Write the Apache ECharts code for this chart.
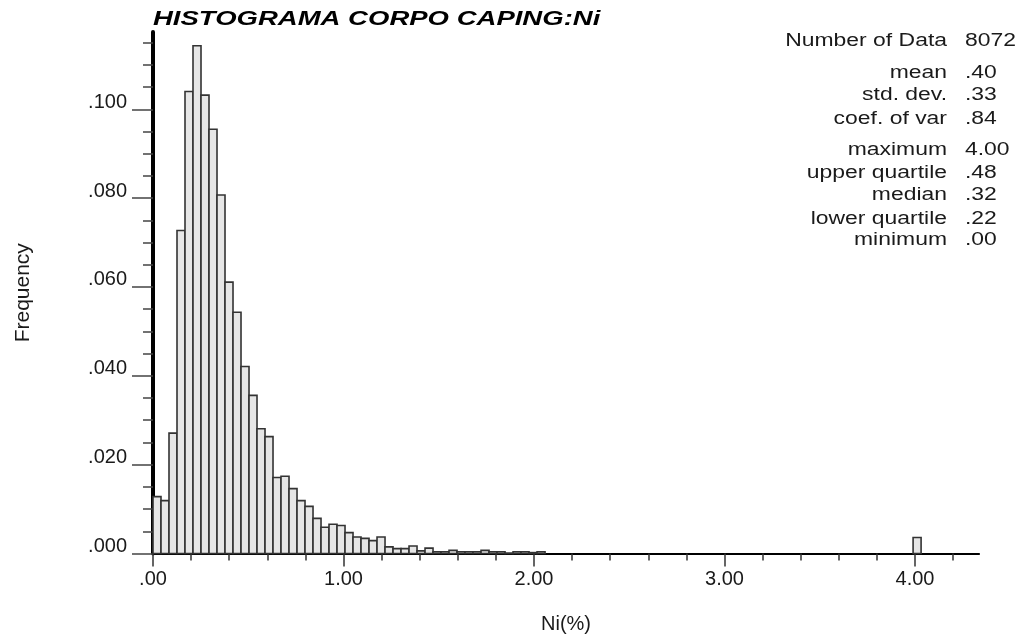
<!DOCTYPE html>
<html>
<head>
<meta charset="utf-8">
<script src="https://cdn.jsdelivr.net/npm/echarts@6/dist/echarts.min.js"></script>
<style>
html,body{margin:0;padding:0;background:#fff;}
#chart{width:1021px;height:639px;}
</style>
</head>
<body>
<div id="chart"></div>
<script>
// ---- data ----
const chartTitle = 'HISTOGRAMA CORPO CAPING:Ni';
const xAxisName = 'Ni(%)';
const yAxisName = 'Frequency';
const binWidth = 0.042;               // class width (100 classes over 0 - 4.2)
const freq = [
  0.0128, 0.0119, 0.0271, 0.0727, 0.1040, 0.1143, 0.1032, 0.0955, 0.0807, 0.0611,
  0.0543, 0.0421, 0.0356, 0.0281, 0.0263, 0.0171, 0.0174, 0.0146, 0.0119, 0.0106,
  0.0079, 0.0059, 0.0066, 0.0063, 0.0047, 0.0037, 0.0034, 0.0029, 0.0037, 0.0015,
  0.0011, 0.0011, 0.0017, 0.0006, 0.0012, 0.0004, 0.0004, 0.0007, 0.0004, 0.0004,
  0.0004, 0.0007, 0.0004, 0.0004, 0.0001, 0.0004, 0.0004, 0.0002, 0.0004
];
const capBinIndex = 95;               // capped values at 4.00
const capBinFreq = 0.0036;
const yMajorTicks = [0, 0.02, 0.04, 0.06, 0.08, 0.10];
const yMinorTicks = [0.005,0.010,0.015,0.025,0.030,0.035,0.045,0.050,0.055,0.065,0.070,0.075,0.085,0.090,0.095,0.105,0.110,0.115];
const xMajorTicks = [0, 1, 2, 3, 4];
const xMinorTicks = [0.2,0.4,0.6,0.8,1.2,1.4,1.6,1.8,2.2,2.4,2.6,2.8,3.2,3.4,3.6,3.8,4.2];
const statLabels = ['Number of Data','mean','std. dev.','coef. of var','maximum','upper quartile','median','lower quartile','minimum'];
const statValues = ['8072','.40','.33','.84','4.00','.48','.32','.22','.00'];

// ---- build ----
const bars = freq.map((f, i) => [i * binWidth, (i + 1) * binWidth, f]).filter(d => d[2] > 0);
bars.push([capBinIndex * binWidth, (capBinIndex + 1) * binWidth, capBinFreq]);

const X_MAX = 4.336, Y_MAX = 0.1174;
const FONT = 'Liberation Sans, Arial, sans-serif';
const TXT = '#1a1a1a';
const STRETCH = 1.31;

const fmtY = v => v.toFixed(3).replace(/^0/, '');
const fmtX = v => v === 0 ? '.00' : v.toFixed(2);

const statRowsY = [41.5, 72.8, 95.5, 118.8, 150.5, 172.8, 195.5, 218.8, 240.5];
const graphics = [{
  type: 'text', x: 153, y: 19.3, scaleX: STRETCH,
  style: { text: chartTitle, font: 'italic bold 21px ' + FONT, fill: '#000', textAlign: 'left', textVerticalAlign: 'middle' }
}];
statLabels.forEach((s, i) => {
  graphics.push({ type: 'text', x: 947, y: statRowsY[i], scaleX: STRETCH,
    style: { text: s, font: '17.5px ' + FONT, fill: TXT, textAlign: 'right', textVerticalAlign: 'middle' } });
  graphics.push({ type: 'text', x: 965, y: statRowsY[i], scaleX: STRETCH,
    style: { text: statValues[i], font: '17.5px ' + FONT, fill: TXT, textAlign: 'left', textVerticalAlign: 'middle' } });
});

const chart = echarts.init(document.getElementById('chart'), null, { renderer: 'canvas' });
chart.setOption({
  animation: false,
  backgroundColor: '#fff',
  grid: { left: 153, right: 42, top: 32, bottom: 85.5, containLabel: false, outerBoundsMode: 'none' },
  xAxis: [{
    type: 'value', min: 0, max: X_MAX, position: 'bottom',
    name: xAxisName, nameLocation: 'middle', nameGap: 61, nameMoveOverlap: false,
    nameTextStyle: { fontFamily: FONT, fontSize: 20, color: TXT },
    axisLine: { show: true, onZero: false, lineStyle: { color: '#000', width: 2.2 } },
    axisTick: { show: true, length: 13, customValues: xMajorTicks, lineStyle: { color: '#333', width: 1.5 } },
    axisLabel: { show: true, customValues: xMajorTicks, formatter: fmtX, margin: 16, fontFamily: FONT, fontSize: 20, color: TXT, showMinLabel: true, showMaxLabel: true },
    splitLine: { show: false }
  }, {
    type: 'value', min: 0, max: X_MAX, position: 'bottom',
    axisLine: { show: false, onZero: false },
    axisTick: { show: true, length: 7, customValues: xMinorTicks, lineStyle: { color: '#333', width: 1.5 } },
    axisLabel: { show: false },
    splitLine: { show: false }
  }],
  yAxis: [{
    type: 'value', min: 0, max: Y_MAX, position: 'left',
    name: yAxisName, nameLocation: 'middle', nameGap: 119, nameRotate: 90, nameMoveOverlap: false,
    nameTextStyle: { fontFamily: FONT, fontSize: 21, color: TXT },
    axisLine: { show: true, onZero: false, lineStyle: { color: '#000', width: 4 } },
    axisTick: { show: true, length: 21, customValues: yMajorTicks, lineStyle: { color: '#444', width: 1.5 } },
    axisLabel: { show: true, customValues: yMajorTicks, formatter: fmtY, margin: 26, fontFamily: FONT, fontSize: 20, color: TXT, verticalAlign: 'bottom', lineHeight: 14 },
    splitLine: { show: false }
  }, {
    type: 'value', min: 0, max: Y_MAX, position: 'left',
    axisLine: { show: false, onZero: false },
    axisTick: { show: true, length: 10, customValues: yMinorTicks, lineStyle: { color: '#444', width: 1.5 } },
    axisLabel: { show: false },
    splitLine: { show: false }
  }],
  series: [{
    type: 'custom',
    xAxisIndex: 0, yAxisIndex: 0,
    data: bars,
    clip: false,
    renderItem: function (params, api) {
      const p0 = api.coord([api.value(0), api.value(2)]);
      const p1 = api.coord([api.value(1), 0]);
      return {
        type: 'rect',
        shape: { x: p0[0], y: p0[1], width: p1[0] - p0[0], height: p1[1] - p0[1] },
        style: { fill: '#e6e6e6', stroke: '#333', lineWidth: 1.6 }
      };
    }
  }],
  graphic: graphics
});
</script>
</body>
</html>
